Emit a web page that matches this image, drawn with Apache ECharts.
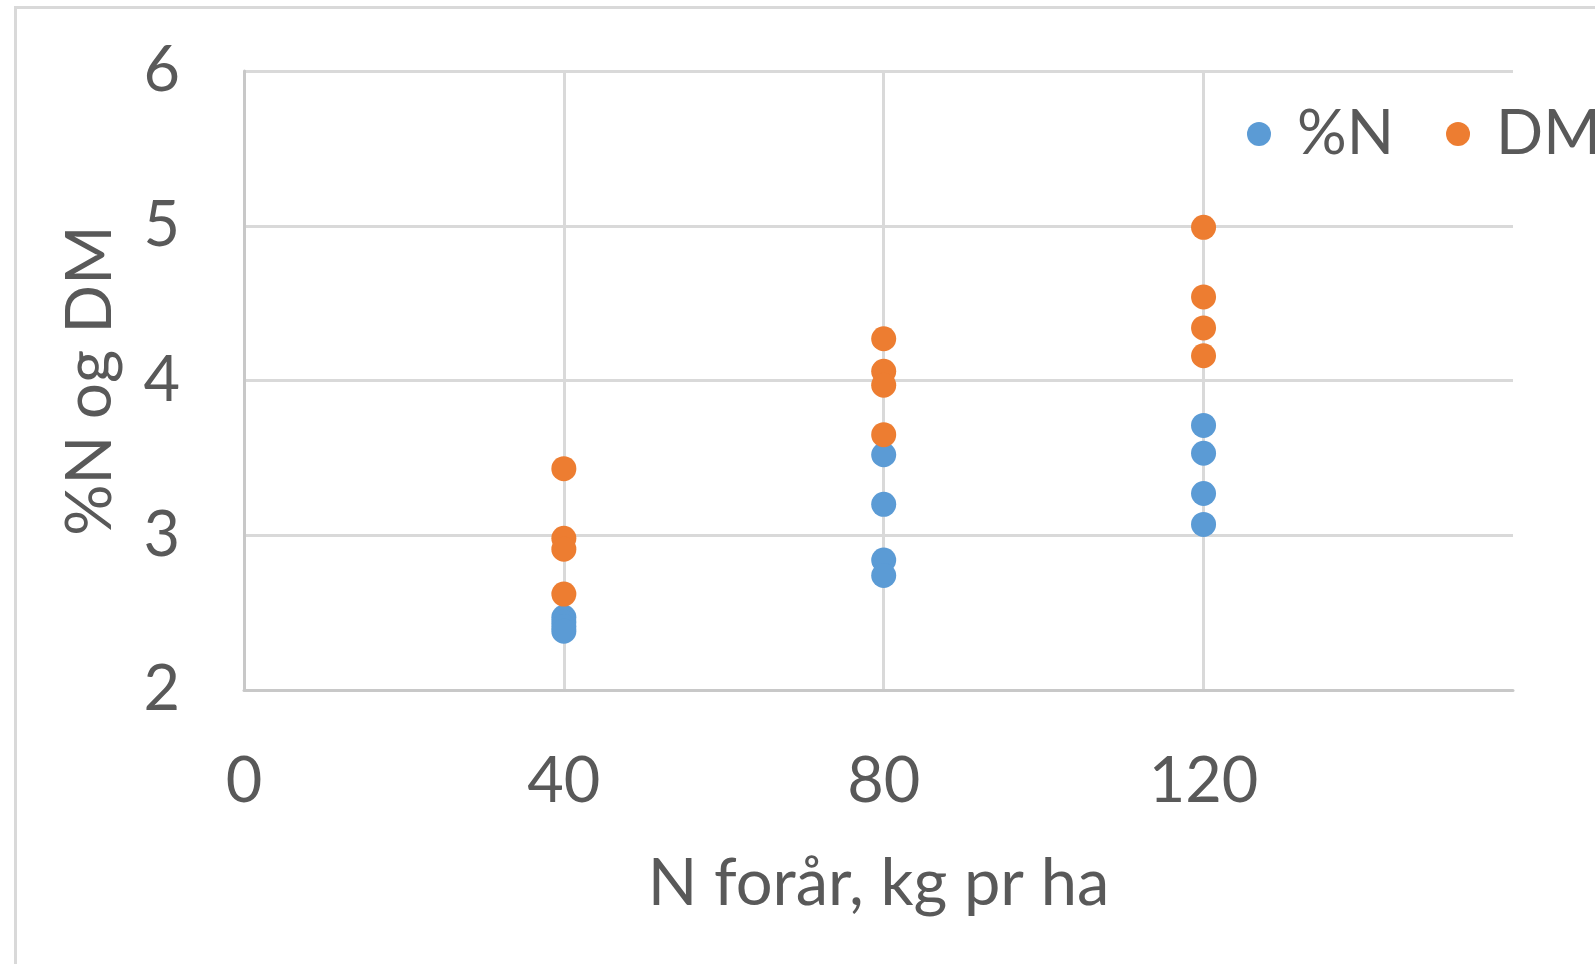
<!DOCTYPE html>
<html>
<head>
<meta charset="utf-8">
<script src="https://cdn.jsdelivr.net/npm/echarts@6/dist/echarts.min.js"></script>
<style>
html,body{margin:0;padding:0;background:#fff;}
#c{width:1595px;height:964px;}
</style>
</head>
<body>
<div id="c"></div>
<script>
const xCategories = [40, 80, 120];
const nPct40 = [2.47, 2.44, 2.41, 2.38];
const nPct80 = [3.52, 3.20, 2.84, 2.74];
const nPct120 = [3.71, 3.53, 3.27, 3.07];
const dm40 = [3.43, 2.98, 2.91, 2.62];
const dm80 = [4.27, 4.06, 3.97, 3.65];
const dm120 = [4.99, 4.54, 4.34, 4.16];
const yTicks = [2, 3, 4, 5, 6];
const xTicks = [0, 40, 80, 120];

function pairs(groups) {
  const out = [];
  groups.forEach((g, i) => g.forEach(v => out.push([xCategories[i], v])));
  return out;
}
const nData = pairs([nPct40, nPct80, nPct120]);
const dmData = pairs([dm40, dm80, dm120]);

const textColor = '#595959';
const font = 'Lato, "Open Sans", sans-serif';
const chart = echarts.init(document.getElementById('c'));
chart.setOption({
  animation: false,
  backgroundColor: '#fff',
  graphic: [{
    type: 'rect', left: 13, top: 5,
    shape: {width: 1700, height: 1100},
    style: {fill: 'none', stroke: '#D9D9D9', lineWidth: 3},
    silent: true, z: -1
  }],
  grid: {left: 244, top: 71, width: 1269, height: 619},
  legend: {
    left: 1247, top: 103, width: 700, padding: 0,
    icon: 'circle', itemWidth: 24, itemHeight: 24, itemGap: 52,
    textStyle: {fontSize: 62, color: textColor, fontFamily: font, padding: [0, 0, 0, 21]},
    data: ['%N', 'DM']
  },
  xAxis: {
    type: 'value', min: 0, max: 158.7, interval: 40,
    name: 'N forår, kg pr ha', nameLocation: 'middle', nameGap: 162,
    nameTextStyle: {fontSize: 65, color: textColor, fontFamily: font},
    axisLine: {show: true, lineStyle: {color: '#C8C8C8', width: 3}},
    axisTick: {show: false},
    axisLabel: {fontSize: 63, color: textColor, fontFamily: font, margin: 60,
      formatter: v => xTicks.includes(v) ? String(v) : ''},
    splitLine: {show: true, showMaxLine: false, lineStyle: {color: '#D9D9D9', width: 3}}
  },
  yAxis: {
    type: 'value', min: yTicks[0], max: yTicks[yTicks.length - 1], interval: 1,
    name: '%N og DM', nameLocation: 'middle', nameGap: 122,
    nameTextStyle: {fontSize: 64, color: textColor, fontFamily: font},
    axisLine: {show: true, lineStyle: {color: '#C8C8C8', width: 3}},
    axisTick: {show: false},
    axisLabel: {fontSize: 63, color: textColor, fontFamily: font, margin: 64},
    splitLine: {show: true, lineStyle: {color: '#D9D9D9', width: 3}}
  },
  series: [
    {name: '%N', type: 'scatter', data: nData, symbolSize: 25,
      itemStyle: {color: '#5B9BD5', opacity: 1}},
    {name: 'DM', type: 'scatter', data: dmData, symbolSize: 25,
      itemStyle: {color: '#ED7D31', opacity: 1}}
  ]
});
</script>
</body>
</html>
